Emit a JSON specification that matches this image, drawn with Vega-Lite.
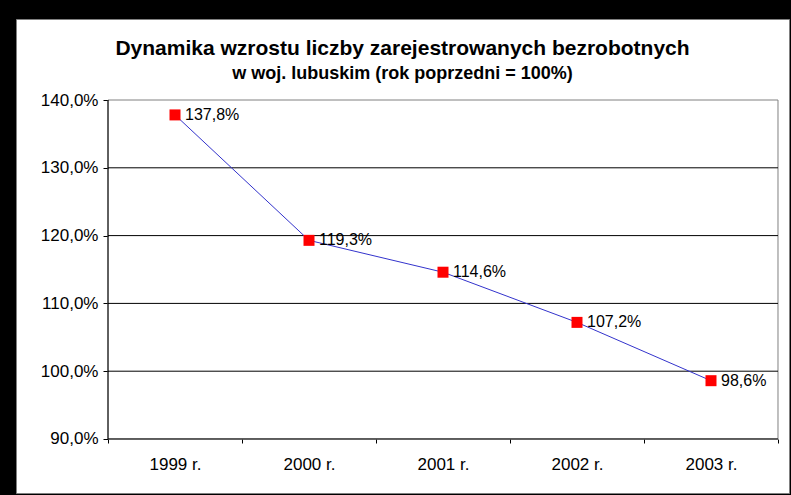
{
  "$schema": "https://vega.github.io/schema/vega-lite/v6.json",
  "autosize": "none",
  "width": 773,
  "height": 474,
  "padding": {"left": 16, "top": 19, "right": 2, "bottom": 2},
  "background": "#000000",
  "config": {
    "view": {"fill": "white", "stroke": "#808080", "strokeWidth": 1},
    "font": "Liberation Sans"
  },
  "title": {
    "text": "Dynamika wzrostu liczby zarejestrowanych bezrobotnych",
    "subtitle": "w woj. lubuskim (rok poprzedni = 100%)",
    "font": "Liberation Sans",
    "fontSize": 21,
    "fontWeight": "bold",
    "color": "#000000",
    "subtitleFont": "Liberation Sans",
    "subtitleFontSize": 18,
    "subtitleFontWeight": "bold",
    "subtitleColor": "#000000",
    "subtitlePadding": 6,
    "anchor": "middle",
    "offset": -64
  },
  "data": {
    "values": [
      {"year": 1999, "value": 137.8, "label": "137,8%"},
      {"year": 2000, "value": 119.3, "label": "119,3%"},
      {"year": 2001, "value": 114.6, "label": "114,6%"},
      {"year": 2002, "value": 107.2, "label": "107,2%"},
      {"year": 2003, "value": 98.6, "label": "98,6%"}
    ]
  },
  "layer": [
    {
      "data": {"values": [{}]},
      "mark": {"type": "rect", "fill": null, "fillOpacity": 0, "stroke": "#808080", "strokeWidth": 1},
      "encoding": {
        "x": {"datum": 1998.5, "type": "quantitative", "title": null},
        "x2": {"datum": 2003.5},
        "y": {"datum": 90, "type": "quantitative", "title": null},
        "y2": {"datum": 140}
      }
    },
    {
      "data": {"values": [{"pct": 90}, {"pct": 100}, {"pct": 110}, {"pct": 120}, {"pct": 130}]},
      "mark": {"type": "rule", "color": "#000000", "strokeWidth": 1},
      "encoding": {
        "y": {"field": "pct", "type": "quantitative", "title": null},
        "x": {"datum": 1998.5, "type": "quantitative", "title": null},
        "x2": {"datum": 2003.5}
      }
    },
    {
      "data": {"values": [{}]},
      "mark": {"type": "rule", "color": "#000000", "strokeWidth": 1},
      "encoding": {
        "x": {"datum": 1998.5, "type": "quantitative", "title": null},
        "y": {"datum": 90, "type": "quantitative", "title": null},
        "y2": {"datum": 140}
      }
    },
    {
      "mark": {"type": "line", "color": "#3333cc", "strokeWidth": 1},
      "encoding": {
        "x": {
          "field": "year",
          "type": "quantitative",
          "scale": {"domain": [1997.8134, 2003.5821], "nice": false, "zero": false},
          "axis": {
            "title": null,
            "orient": "bottom",
            "offset": -54,
            "domain": false,
            "grid": false,
            "values": [1998.5, 1999, 1999.5, 2000, 2000.5, 2001, 2001.5, 2002, 2002.5, 2003, 2003.5],
            "labelExpr": "datum.value % 1 == 0 ? datum.value + ' r.' : ''",
            "labelOverlap": false,
            "labelFlush": false,
            "labelFont": "Liberation Sans",
            "labelFontSize": 17,
            "labelColor": "#000000",
            "labelPadding": 13,
            "tickSize": 4,
            "tickColor": "#000000",
            "tickOpacity": {"condition": {"test": "datum.value % 1 == 0", "value": 0}, "value": 1}
          }
        },
        "y": {
          "field": "value",
          "type": "quantitative",
          "scale": {"domain": [82.035, 151.947], "nice": false, "zero": false},
          "axis": {
            "title": null,
            "orient": "left",
            "offset": -92,
            "domain": false,
            "grid": false,
            "values": [90, 100, 110, 120, 130, 140],
            "labelExpr": "replace(format(datum.value, '.1f'), '.', ',') + '%'",
            "labelFont": "Liberation Sans",
            "labelFontSize": 17,
            "labelColor": "#000000",
            "labelPadding": 5,
            "tickSize": 5,
            "tickColor": "#000000"
          }
        }
      }
    },
    {
      "mark": {"type": "point", "shape": "square", "filled": true, "color": "#ff0000", "size": 121, "opacity": 1},
      "encoding": {
        "x": {"field": "year", "type": "quantitative"},
        "y": {"field": "value", "type": "quantitative"}
      }
    },
    {
      "mark": {"type": "text", "align": "left", "baseline": "middle", "dx": 10, "font": "Liberation Sans", "fontSize": 16, "color": "#000000"},
      "encoding": {
        "x": {"field": "year", "type": "quantitative"},
        "y": {"field": "value", "type": "quantitative"},
        "text": {"field": "label"}
      }
    }
  ]
}
